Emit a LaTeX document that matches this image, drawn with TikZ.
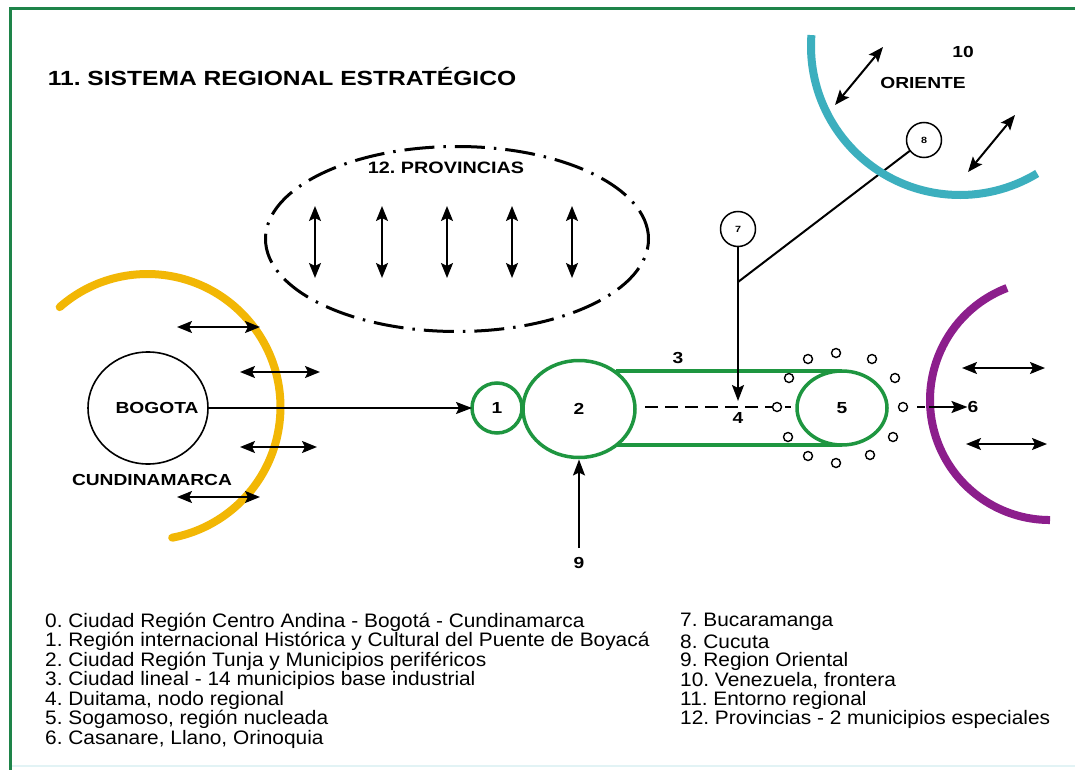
\documentclass[tikz,border=0pt]{standalone}
\usepackage{fontspec}
\setmainfont{Liberation Sans}
\newfontfamily\lblfont[FakeStretch=1.2]{Liberation Sans}
\newfontfamily\legfont[FakeStretch=1.07]{Liberation Sans}
\usetikzlibrary{arrows.meta,shapes.geometric}
\definecolor{framegreen}{RGB}{30,132,73}
\definecolor{ringgreen}{RGB}{30,150,64}
\definecolor{yellowc}{RGB}{242,183,5}
\definecolor{tealc}{RGB}{60,175,190}
\definecolor{purplec}{RGB}{140,30,140}
\frenchspacing
\begin{document}
\begin{tikzpicture}[x=1pt,y=-1pt,
  lbl/.style={font=\lblfont\bfseries\fontsize{16}{18}\selectfont, inner sep=0pt},
  small/.style={font=\lblfont\bfseries\fontsize{9}{10}\selectfont},
  leg/.style={font=\legfont\fontsize{19.5}{21}\selectfont, anchor=west, inner sep=0pt},
  arr/.style={-{Stealth[length=16pt,width=12pt,inset=3pt]}, line width=2pt},
  darr/.style={{Stealth[length=15pt,width=12pt,inset=3pt]}-{Stealth[length=15pt,width=12pt,inset=3pt]}, line width=2pt},
  gshape/.style={draw=ringgreen, line width=3.5pt, outer sep=0pt},
  gline/.style={draw=ringgreen, line width=3.5pt},
  sdot/.style={circle, draw, line width=1.4pt, minimum size=9pt, inner sep=0pt, fill=white},
  numc/.style={circle, draw, line width=1.5pt, minimum size=35pt, inner sep=0pt, outer sep=0pt, small},
  arcline/.style={line width=8pt, line cap=round}
]
\useasboundingbox (0,0) rectangle (1075,770);
\fill[white] (0,0) rectangle (1075,770);
% frame
\draw[framegreen, line width=3pt] (1075,8.5) -- (10.5,8.5) -- (10.5,770);
\draw[tealc!15, line width=2pt] (12,766) -- (1075,766);

% title
\node[lbl, font=\lblfont\bfseries\fontsize{20.5}{24}\selectfont] (title) at (282,77) {11. SISTEMA REGIONAL ESTRATÉGICO};

% provincias
\node[draw, ellipse, line width=3pt, minimum width=383pt, minimum height=185pt,
      dash pattern=on 30pt off 9pt on 2.5pt off 9pt] (provell) at (457,239) {};
\node[lbl, font=\lblfont\bfseries\fontsize{16.5}{18}\selectfont] (prov) at (446,168) {12. PROVINCIAS};
\foreach \x [count=\i] in {315,382,447,512,572} {
  \coordinate (pt\i) at (\x,206);
  \coordinate (pb\i) at (\x,278);
  \draw[darr] (pt\i) -- (pb\i);
}

% Bogota / Cundinamarca
\draw[yellowc, arcline] (59.7,307.1) arc[start angle=-131.3, end angle=79.3, radius=133];
\node[draw, ellipse, line width=1.6pt, minimum width=120pt, minimum height=112pt, outer sep=0pt] (bog) at (148,408) {};
\node[lbl] (bogt) at (157,408) {BOGOTA};
\node[lbl] (cund) at (152,480) {CUNDINAMARCA};
\foreach \xa/\xb/\y [count=\i] in {177/260/327, 240/320/372, 240/317/447, 177/260/497} {
  \coordinate (la\i) at (\xa,\y);
  \coordinate (lb\i) at (\xb,\y);
  \draw[darr] (la\i) -- (lb\i);
}

% green system
\node[gshape, circle, minimum size=50pt, inner sep=0pt, lbl] (c1) at (497,408) {1};
\node[gshape, ellipse, minimum width=112pt, minimum height=97pt, inner sep=0pt, lbl] (c2) at (579,409) {2};
\node[gshape, ellipse, minimum width=90pt, minimum height=74pt, inner sep=0pt, lbl] (c5) at (842,408) {5};
\coordinate (t3a) at (616,371);
\coordinate (b3a) at (616,445);
\draw[gline] (t3a) -- (c5.north);
\draw[gline] (b3a) -- (c5.south);
\node[lbl] (n3) at (678,358) {3};
\node[lbl] (n4) at (738,418) {4};
\coordinate (dA) at (645,407);
\coordinate (dB) at (791,407);
\draw[line width=2pt, dash pattern=on 13pt off 7pt] (dA) -- (dB);
\foreach \x/\y [count=\i] in {808/359, 836/353, 872/359, 895/378, 789/378, 777/407, 903/407, 788/437, 893/437, 808/456, 836/463, 870/455} {
  \node[sdot] (s\i) at (\x,\y) {};
}

% main arrow Bogota -> 1
\draw[arr] (bog.east) -- (c1.west);

% 7 and 8
\node[numc] (n7) at (738,229) {7};
\node[numc] (n8) at (924,140) {8};
\coordinate (j7) at (738,282);
\coordinate (a4) at (738,401);
\draw[line width=2pt] (n7.south) -- (j7);
\draw[arr] (j7) -- (a4);
\draw[line width=2pt] (j7) -- (n8);

% 9
\node[lbl] (n9) at (579,563) {9};
\coordinate (t9) at (579,548);
\draw[arr, shorten >=2pt] (t9) -- (c2.south);

% Oriente
\draw[tealc, arcline, line cap=butt] (811.4,35.1) arc[start angle=184.2, end angle=58.8, radius=149];
\node[lbl] (n10) at (963,52) {10};
\node[lbl] (ori) at (923,83) {ORIENTE};
\coordinate (oa1) at (835,105); \coordinate (ob1) at (883,47);
\coordinate (oa2) at (968,172); \coordinate (ob2) at (1015,115);
\draw[darr] (oa1) -- (ob1);
\draw[darr] (oa2) -- (ob2);

% Casanare
\draw[purplec, arcline, line cap=butt] (1007,288) arc[start angle=249, end angle=90, radius=120];
\node[lbl] (n6) at (973,407) {6};
\coordinate (d6) at (917,407);
\draw[arr, dash pattern=on 8pt off 4pt on 60pt] (d6) -- (n6.west);
\coordinate (ra1) at (962,368); \coordinate (rb1) at (1045,368);
\coordinate (ra2) at (966,444); \coordinate (rb2) at (1047,444);
\draw[darr] (ra1) -- (rb1);
\draw[darr] (ra2) -- (rb2);

% legend
\node[leg] (l0) at (45,622) {0. Ciudad Región Centro Andina - Bogotá - Cundinamarca};
\node[leg] (l1) at (45,641.5) {1. Región internacional Histórica y Cultural del Puente de Boyacá};
\node[leg] (l2) at (45,661) {2. Ciudad Región Tunja y Municipios periféricos};
\node[leg] (l3) at (45,680.5) {3. Ciudad lineal - 14 municipios base industrial};
\node[leg] (l4) at (45,700) {4. Duitama, nodo regional};
\node[leg] (l5) at (45,719.5) {5. Sogamoso, región nucleada};
\node[leg] (l6) at (45,739) {6. Casanare, Llano, Orinoquia};
\node[leg] (l7) at (680,622) {7. Bucaramanga};
\node[leg] (l8) at (680,641.5) {8. Cucuta};
\node[leg] (l9) at (680,661) {9. Region Oriental};
\node[leg] (l10) at (680,680.5) {10. Venezuela, frontera};
\node[leg] (l11) at (680,700) {11. Entorno regional};
\node[leg] (l12) at (680,719.5) {12. Provincias - 2 municipios especiales};
\end{tikzpicture}
\end{document}
